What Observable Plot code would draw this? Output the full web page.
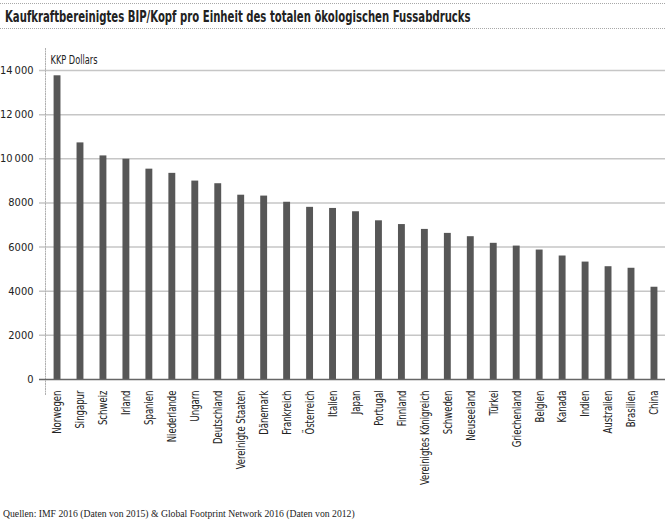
<!DOCTYPE html>
<html>
<head>
<meta charset="utf-8">
<script src="https://cdn.jsdelivr.net/npm/d3@7"></script>
<script src="https://cdn.jsdelivr.net/npm/@observablehq/plot@0.6"></script>
<style>
  html, body { margin: 0; padding: 0; background: #fff; }
  body { width: 670px; height: 524px; position: relative; overflow: hidden; }
  .title {
    position: absolute; left: 0; top: 3px; width: 665px; height: 26px;
    border-top: 1px dotted #a8a8a8; border-bottom: 1px dotted #a8a8a8;
    font-family: "DejaVu Sans Condensed", "Liberation Sans Narrow", sans-serif;
    font-weight: bold; font-size: 15px; color: #222; line-height: 26px;
    padding-left: 5px; box-sizing: border-box; white-space: nowrap;
  }
  .title span { display: inline-block; transform: scaleX(0.75); transform-origin: 0 50%; }
  #chart { position: absolute; left: 0; top: 36px; }
  .caption {
    position: absolute; left: 3px; top: 508px;
    font-family: "Liberation Serif", "DejaVu Serif", serif; font-size: 9.7px; color: #222;
  }
</style>
</head>
<body>
<div class="title"><span>Kaufkraftbereinigtes BIP/Kopf pro Einheit des totalen ökologischen Fussabdrucks</span></div>
<div id="chart"></div>
<div class="caption">Quellen: IMF 2016 (Daten von 2015) &amp; Global Footprint Network 2016 (Daten von 2012)</div>
<script>
// Countries, ordered from highest to lowest value
const countries = [
  "Norwegen", "Singapur", "Schweiz", "Irland", "Spanien", "Niederlande", "Ungarn",
  "Deutschland", "Vereinigte Staaten", "Dänemark", "Frankreich", "Österreich",
  "Italien", "Japan", "Portugal", "Finnland", "Vereinigtes Königreich", "Schweden",
  "Neuseeland", "Türkei", "Griechenland", "Belgien", "Kanada", "Indien",
  "Australien", "Brasilien", "China"
];

// PPP GDP per capita per unit of total ecological footprint (KKP Dollars)
const values = [
  13760, 10720, 10130, 9980, 9530, 9340, 8990,
  8870, 8350, 8310, 8030, 7800,
  7750, 7600, 7190, 7020, 6800, 6620,
  6470, 6170, 6045, 5865, 5595, 5320,
  5110, 5040, 4180
];

const yTicks = [0, 2000, 4000, 6000, 8000, 10000, 12000, 14000];
const yLabel = "KKP Dollars";

const data = countries.map((country, i) => ({country, value: values[i]}));

const fmt = d => d >= 10000 ? String(d).replace(/(\d{3})$/, "\u2009$1") : String(d);

const chart = Plot.plot({
  width: 670,
  height: 468,
  marginTop: 34,
  marginBottom: 125,
  marginLeft: 39,
  marginRight: 5,
  style: {
    fontFamily: '"DejaVu Sans Condensed", "Liberation Sans Narrow", sans-serif',
    fontSize: "11px",
    color: "#222",
    background: "#fff"
  },
  x: {domain: countries, range: [46.7, 664.3], paddingInner: 0.7, paddingOuter: 0.3, round: false, label: null},
  y: {domain: [0, 14000], label: null},
  marks: [
    Plot.ruleY(yTicks.filter(d => d > 0), {stroke: "#c6c6c6", strokeWidth: 1.5}),
    Plot.frame({anchor: "left", stroke: "#b0b0b0", strokeDasharray: "1,1.5", dx: 6, insetTop: -22, insetBottom: -16}),
    Plot.barY(data, {x: "country", y: "value", fill: "#575757"}),
    Plot.ruleY([0], {stroke: "#666", strokeWidth: 1.5}),
    Plot.axisY({ticks: yTicks, tickFormat: fmt, tickSize: 0, tickPadding: 6, fontSize: 11, label: null}),
    Plot.axisX({tickRotate: -90, tickSize: 0, tickPadding: 11, fontSize: 12, label: null}),
    Plot.text([yLabel], {frameAnchor: "top-left", dx: 11, dy: -15, textAnchor: "start", fontSize: 11.5})
  ]
});

// Narrow the rotated country names along their reading direction
d3.select(chart).selectAll('g[aria-label="x-axis tick label"] text').each(function() {
  const t = this.getAttribute("transform") || "";
  this.setAttribute("transform", t + " scale(0.79,1)");
});

// Condense the unit label to the width of the narrow face
d3.select(chart).selectAll('g[aria-label="text"] text')
  .attr("textLength", 47)
  .attr("lengthAdjust", "spacingAndGlyphs");

document.getElementById("chart").appendChild(chart);
</script>
</body>
</html>
